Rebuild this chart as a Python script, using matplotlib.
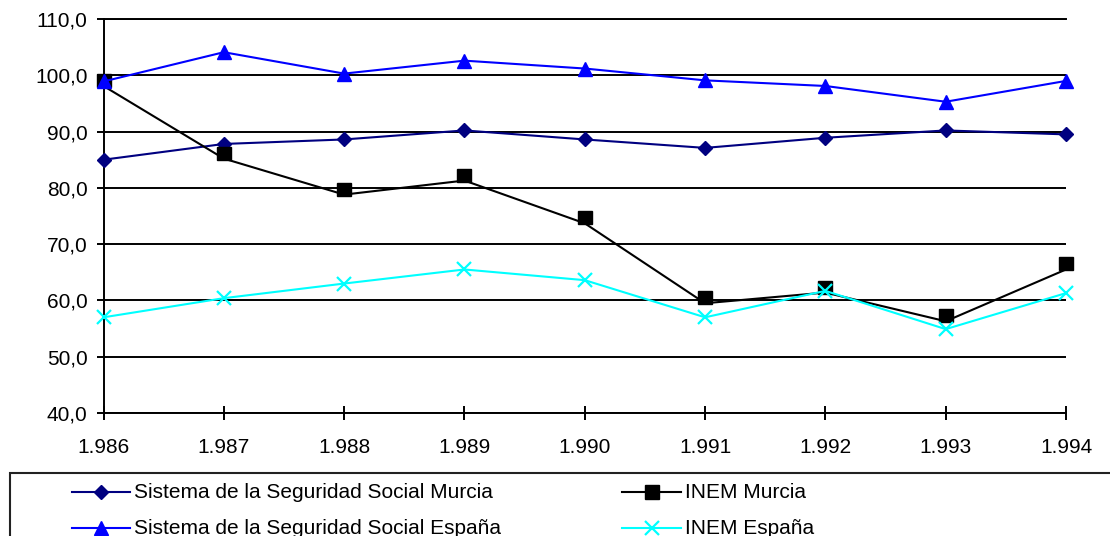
#------------------------------------------------------------
# import
import matplotlib
matplotlib.use("Agg")
import matplotlib.pyplot as plt
from matplotlib.lines import Line2D
from matplotlib.markers import MarkerStyle
from matplotlib.patches import Rectangle
from matplotlib.transforms import Affine2D
from matplotlib.ticker import FuncFormatter
#------------------------------------------------------------
# data

years = [1986, 1987, 1988, 1989, 1990, 1991, 1992, 1993, 1994]
year_labels = ["1.986", "1.987", "1.988", "1.989", "1.990", "1.991", "1.992", "1.993", "1.994"]

ss_murcia = [85.0, 87.8, 88.6, 90.2, 88.6, 87.1, 88.9, 90.2, 89.5]
inem_murcia = [98.1, 85.2, 78.8, 81.3, 73.7, 59.5, 61.4, 56.3, 65.5]
ss_espana = [98.9, 104.1, 100.3, 102.6, 101.2, 99.1, 98.1, 95.3, 99.0]
inem_espana = [57.0, 60.4, 63.0, 65.5, 63.6, 57.0, 61.7, 54.9, 61.3]

series_names = [
    "Sistema de la Seguridad Social Murcia",
    "INEM Murcia",
    "Sistema de la Seguridad Social España",
    "INEM España",
]
series_values = [ss_murcia, inem_murcia, ss_espana, inem_espana]

#------------------------------------------------------------
# styles

# 四角マーカーは線より少し上に描く
square_up = MarkerStyle("s", transform=Affine2D().translate(0, 0.45))

styles = [
    dict(color="#000080", marker="D", ms=7.0, mew=1.0),
    dict(color="#000000", marker=square_up, ms=9.4, mew=1.0),
    dict(color="#0000FF", marker="^", ms=10.0, mew=1.0),
    dict(color="#00FFFF", marker="x", ms=10.0, mew=1.6),
]
legend_markers = ["D", "s", "^", "x"]

plt.rcParams["font.family"] = ["Liberation Sans", "DejaVu Sans"]

W, H = 1110, 536
fig = plt.figure(figsize=(W / 100, H / 100), dpi=100)
ax = fig.add_axes([103.5 / W, 1 - 413 / H, (1066 - 103.5) / W, (413 - 19) / H])

#------------------------------------------------------------
# lines

for values, st in zip(series_values, styles):
    ax.plot(years, values, color=st["color"], lw=1.5,
            marker=st["marker"], ms=st["ms"], mew=st["mew"],
            mfc=st["color"], mec=st["color"], clip_on=False, zorder=3)

ax.set_xlim(years[0], years[-1])
ax.set_ylim(40, 110)
ax.set_yticks(range(40, 111, 10))
ax.yaxis.set_major_formatter(FuncFormatter(lambda v, p: f"{v:.1f}".replace(".", ",")))
ax.set_xticks(years)
ax.set_xticklabels(year_labels)

ax.grid(axis="y", color="black", lw=1.4, zorder=1)
ax.grid(axis="x", visible=False)
ax.set_axisbelow(True)

ax.spines["right"].set_visible(False)
for side in ["left", "bottom", "top"]:
    ax.spines[side].set_linewidth(1.4)
    ax.spines[side].set_color("black")

ax.tick_params(axis="y", direction="out", length=5, width=1.4, pad=6.5, labelsize=15)
ax.tick_params(axis="x", direction="inout", length=10, width=1.4, pad=13, labelsize=15)

#------------------------------------------------------------
# legend (枠は右下にはみ出す)

fig.add_artist(Rectangle((10 / W, -0.2), 1.2, 1.2 - 473 / H, transform=fig.transFigure,
                         fill=False, edgecolor="#222222", lw=1.5, clip_on=False))

col_x = [(72, 130), (622, 681)]
row_y = [492, 528]

for i, (name, st) in enumerate(zip(series_names, styles)):
    x0, x1 = col_x[i % 2]
    yy = 1 - row_y[i // 2] / H
    fig.add_artist(Line2D([x0 / W, x1 / W], [yy, yy], transform=fig.transFigure,
                          color=st["color"], lw=1.5))
    fig.add_artist(Line2D([(x0 + x1) / 2 / W], [yy], transform=fig.transFigure,
                          marker=legend_markers[i], ms=st["ms"], mew=st["mew"],
                          mfc=st["color"], mec=st["color"], color=st["color"]))
    fig.text((x1 + 4) / W, yy, name, va="center", ha="left", fontsize=15)

fig.savefig("out.png", dpi=100)
